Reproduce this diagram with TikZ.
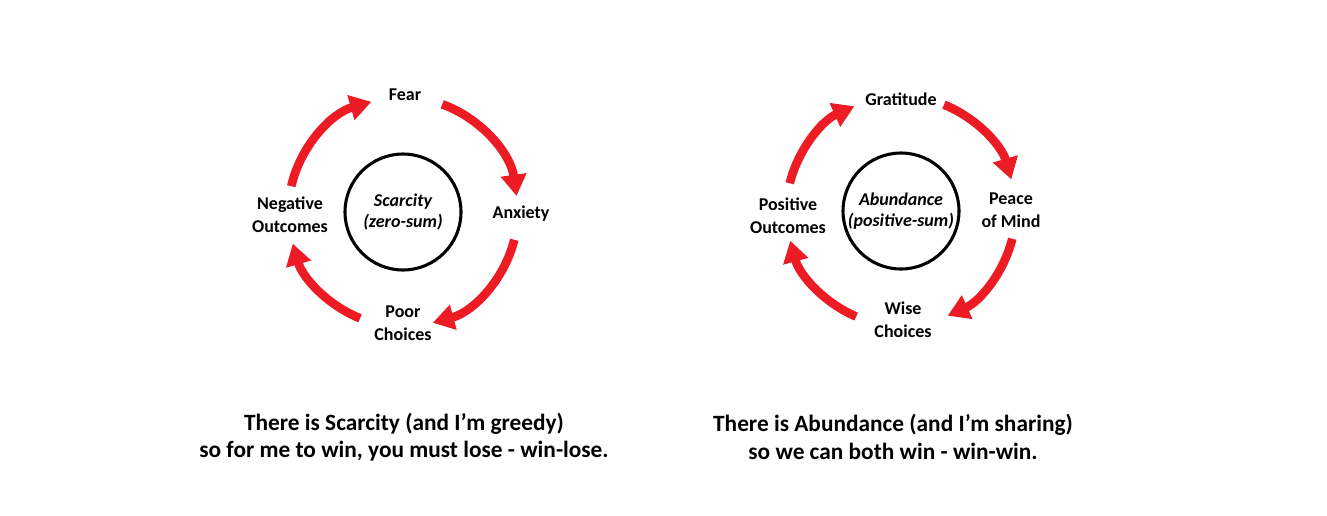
\documentclass[tikz,border=0pt]{standalone}
\usepackage{fontspec}
\setmainfont{Carlito}
\usetikzlibrary{arrows.meta}
\definecolor{cyclered}{HTML}{ED1C24}

\begin{document}
\begin{tikzpicture}[
    x=0.75pt, y=0.75pt,
    >={Triangle[width=18.5pt, length=16pt]}, % Set default arrow tip style
    cyclearc/.style={draw=cyclered, line width=6.5pt, ->}, % Style for the red arcs
    hub/.style={draw, circle, line width=2.3pt, minimum size=87pt, inner sep=0pt,
        align=center, font=\bfseries\itshape\fontsize{13.5}{16}\selectfont},
    stage/.style={align=center, font=\bfseries\fontsize{13.5}{17}\selectfont},
    caption/.style={align=center, font=\bfseries\fontsize{17.5}{20.5}\selectfont}
]

% Canvas
\useasboundingbox (0,0) rectangle (1327,-515);
\def\radius{86pt} % Radius of the red cycle

% Left cycle: scarcity
\node[hub] (scarcity) at (403,-212) {Scarcity\\(zero-sum)};
\node[stage] (fear) at (405,-95) {Fear};
\node[stage] (anxiety) at (521,-214) {Anxiety};
\node[stage] (poor) at (403,-323) {Poor\\Choices};
\node[stage] (negative) at (290,-215) {Negative\\Outcomes};

\draw[cyclearc] ([shift={(70:\radius)}]scarcity.center) arc (70:8:\radius);
\draw[cyclearc] ([shift={(-14:\radius)}]scarcity.center) arc (-14:-75:\radius);
\draw[cyclearc] ([shift={(-112:\radius)}]scarcity.center) arc (-112:-164:\radius);
\draw[cyclearc] ([shift={(167:\radius)}]scarcity.center) arc (167:106:\radius);

% Right cycle: abundance
\node[hub] (abundance) at (901,-211) {Abundance\\(positive-sum)};
\node[stage] (gratitude) at (901,-99) {Gratitude};
\node[stage] (peace) at (1011,-210) {Peace\\of Mind};
\node[stage] (wise) at (903,-320) {Wise\\Choices};
\node[stage] (positive) at (788,-216) {Positive\\Outcomes};

\draw[cyclearc] ([shift={(68:\radius)}]abundance.center) arc (68:16:\radius);
\draw[cyclearc] ([shift={(-14:\radius)}]abundance.center) arc (-14:-66:\radius);
\draw[cyclearc] ([shift={(-113:\radius)}]abundance.center) arc (-113:-165:\radius);
\draw[cyclearc] ([shift={(166:\radius)}]abundance.center) arc (166:114:\radius);

% Captions
\node[caption] (leftcap) at (404,-437) {There is Scarcity (and I’m greedy)\\so for me to win, you must lose - win-lose.};
\node[caption] (rightcap) at (893,-437) {There is Abundance (and I’m sharing)\\so we can both win - win-win.};

\end{tikzpicture}
\end{document}
